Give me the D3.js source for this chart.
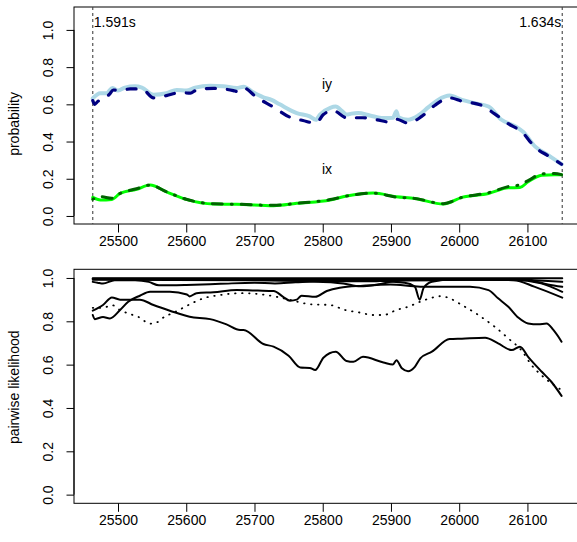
<!DOCTYPE html>
<html>
<head>
<meta charset="utf-8">
<script src="https://cdn.jsdelivr.net/npm/d3@7"></script>
<style>
  body { margin: 0; background: #fff; }
  svg { display: block; font-family: "Liberation Sans", Arial, sans-serif; }
</style>
</head>
<body>
<div id="viz"></div>
<script>
// frame window of the segment
const segStart = 25463
const segEnd = 26151
const segLabels = ['1.591s', '1.634s']
const xTicks = [25500, 25600, 25700, 25800, 25900, 26000, 26100]
const yTicks = [0, 0.2, 0.4, 0.6, 0.8, 1.0]

// top panel: phone probabilities
const iyFrames = [25463, 25474, 25483, 25492, 25500, 25510, 25525, 25535, 25552, 25571, 25586, 25600, 25613, 25635, 25654, 25674, 25684, 25698, 25713, 25725, 25737, 25762, 25781, 25790, 25796, 25811, 25819, 25828, 25835, 25842, 25852, 25869, 25889, 25903, 25908, 25911, 25925, 25940, 25955, 25969, 25986, 26004, 26023, 26043, 26062, 26084, 26094, 26111, 26131, 26150]
const iySmooth = [0.632, 0.66, 0.66, 0.688, 0.674, 0.69, 0.697, 0.69, 0.652, 0.66, 0.677, 0.674, 0.69, 0.70, 0.697, 0.688, 0.695, 0.665, 0.638, 0.624, 0.60, 0.553, 0.535, 0.517, 0.545, 0.581, 0.588, 0.565, 0.545, 0.55, 0.553, 0.54, 0.526, 0.528, 0.563, 0.53, 0.517, 0.54, 0.585, 0.624, 0.647, 0.624, 0.606, 0.588, 0.517, 0.478, 0.451, 0.374, 0.326, 0.278]
const iyRawFrames = [25463, 25466, 25469, 25488, 25493, 25503, 25518, 25535, 25552, 25571, 25591, 25606, 25615, 25640, 25669, 25676, 25684, 25703, 25728, 25752, 25771, 25790, 25801, 25815, 25835, 25859, 25879, 25899, 25908, 25925, 25945, 25964, 25986, 26004, 26033, 26052, 26072, 26092, 26111, 26131, 26150]
const iyRaw = [0.62, 0.60, 0.611, 0.656, 0.677, 0.674, 0.683, 0.683, 0.635, 0.647, 0.663, 0.66, 0.677, 0.686, 0.674, 0.668, 0.688, 0.638, 0.585, 0.531, 0.513, 0.499, 0.545, 0.567, 0.528, 0.528, 0.517, 0.504, 0.52, 0.499, 0.535, 0.594, 0.635, 0.617, 0.594, 0.549, 0.496, 0.451, 0.37, 0.322, 0.278]
const ixFrames = [25463, 25474, 25491, 25503, 25527, 25547, 25571, 25600, 25640, 25674, 25728, 25762, 25811, 25835, 25874, 25908, 25935, 25977, 26004, 26043, 26072, 26089, 26101, 26121, 26140, 26150]
const ixSmooth = [0.10, 0.086, 0.089, 0.121, 0.143, 0.166, 0.13, 0.089, 0.064, 0.063, 0.055, 0.068, 0.086, 0.107, 0.123, 0.103, 0.094, 0.064, 0.10, 0.121, 0.151, 0.153, 0.184, 0.219, 0.222, 0.222]
const ixRaw = [0.09, 0.104, 0.095, 0.121, 0.146, 0.166, 0.13, 0.09, 0.065, 0.063, 0.057, 0.068, 0.088, 0.107, 0.123, 0.101, 0.094, 0.066, 0.10, 0.125, 0.158, 0.168, 0.19, 0.226, 0.228, 0.222]

// bottom panel: pairwise likelihoods
const pairA = {frames: [25463, 25478, 25491, 25503, 25532, 25552, 25576, 25605, 25635, 25659, 25679, 25684, 25713, 25728, 25750, 25767, 25781, 25789, 25801, 25819, 25835, 25845, 25859, 25889, 25903, 25908, 25916, 25925, 25935, 25943, 25960, 25986, 26004, 26038, 26057, 26077, 26089, 26101, 26121, 26135, 26150],
  values: [0.849, 0.875, 0.91, 0.90, 0.90, 0.875, 0.849, 0.821, 0.81, 0.786, 0.76, 0.76, 0.695, 0.683, 0.641, 0.587, 0.585, 0.575, 0.632, 0.66, 0.617, 0.613, 0.636, 0.61, 0.601, 0.62, 0.583, 0.57, 0.59, 0.629, 0.66, 0.718, 0.72, 0.724, 0.698, 0.667, 0.683, 0.636, 0.567, 0.521, 0.456]}
const pairB = {frames: [25463, 25466, 25478, 25488, 25503, 25515, 25532, 25547, 25576, 25601, 25605, 25615, 25640, 25674, 25705, 25728, 25742, 25752, 25762, 25769, 25789, 25806, 25825, 25859, 25899, 25943, 26016, 26043, 26057, 26072, 26087, 26101, 26116, 26128, 26138, 26150],
  values: [0.829, 0.81, 0.82, 0.813, 0.852, 0.89, 0.918, 0.936, 0.936, 0.924, 0.915, 0.93, 0.934, 0.944, 0.942, 0.94, 0.913, 0.895, 0.90, 0.918, 0.913, 0.94, 0.955, 0.964, 0.97, 0.96, 0.96, 0.944, 0.906, 0.867, 0.816, 0.79, 0.786, 0.79, 0.76, 0.706]}
const pairDotted = {frames: [25463, 25478, 25491, 25503, 25518, 25530, 25547, 25557, 25566, 25586, 25605, 25625, 25649, 25684, 25713, 25737, 25757, 25781, 25811, 25833, 25855, 25874, 25889, 25908, 25925, 25945, 25974, 25986, 26004, 26028, 26052, 26072, 26092, 26106, 26121, 26135, 26150],
  values: [0.862, 0.862, 0.875, 0.852, 0.833, 0.82, 0.789, 0.795, 0.816, 0.847, 0.878, 0.906, 0.921, 0.93, 0.923, 0.91, 0.895, 0.879, 0.875, 0.852, 0.84, 0.829, 0.829, 0.852, 0.867, 0.893, 0.916, 0.906, 0.875, 0.829, 0.775, 0.721, 0.663, 0.598, 0.55, 0.514, 0.483]}
const pairC = {frames: [25463, 25470, 25478, 25495, 25525, 25545, 25560, 25600, 25650, 25700, 25730, 25760, 25800, 25870, 25910, 25960, 26000, 26080, 26110, 26151],
  values: [0.982, 0.978, 0.974, 0.99, 0.99, 0.982, 0.966, 0.968, 0.973, 0.978, 0.975, 0.98, 0.985, 0.985, 0.99, 0.99, 0.993, 0.99, 0.96, 0.909]}
const pairD = {frames: [25463, 25700, 25780, 25830, 25855, 25880, 25905, 25930, 26080, 26120, 26151],
  values: [0.992, 0.99, 0.985, 0.975, 0.962, 0.97, 0.985, 0.99, 0.992, 0.975, 0.936]}
const pairE = {frames: [25463, 25850, 25920, 25935, 25942, 25948, 25960, 25990, 26100, 26130, 26151],
  values: [0.995, 0.99, 0.978, 0.96, 0.90, 0.955, 0.983, 0.993, 0.99, 0.97, 0.959]}
const pairF = {frames: [25463, 25800, 26080, 26110, 26151],
  values: [0.996, 0.995, 0.995, 0.99, 0.982]}
const pairG = {frames: [25463, 25700, 25900, 26151],
  values: [0.999, 0.999, 0.999, 0.999]}

const width = 577
const height = 542

/**
 * Creates the svg element that holds both panels.
 *
 * @returns {*} The d3 Selection of the svg
 */
function generateSvg () {
    d3.select('#viz').select('svg').remove()
    return d3.select('#viz')
    .append('svg')
    .attr('width', width)
    .attr('height', height)
}

/**
 * Draws the frame, the axes and the y label of one panel.
 *
 * @param {*} svg The d3 Selection of the svg
 * @param {*} x The x scale
 * @param {*} y The y scale
 * @param {string} label The y axis title
 */
function drawPanelFrame (svg, x, y, label) {
    const [left, right] = x.range()
    const [bottom, top] = y.range()

    svg.append('rect')
    .attr('x', left)
    .attr('y', top)
    .attr('width', right - left)
    .attr('height', bottom - top)
    .attr('fill', 'none')
    .attr('stroke', 'black')
    .attr('stroke-width', 1)

    const xAxis = svg.append('g')
    .attr('class', 'x axis')
    .attr('transform', `translate(0, ${bottom})`)
    .call(d3.axisBottom(x).tickValues(xTicks).tickFormat(d3.format('d')).tickSize(8.5).tickPadding(13))
    xAxis.select('.domain').remove()
    xAxis.selectAll('.tick line').attr('stroke', 'black')
    xAxis.selectAll('.tick text')
    .attr('font-size', 14)
    .attr('fill', 'black')
    .attr('dy', null)

    const yAxis = svg.append('g')
    .attr('class', 'y axis')
    .attr('transform', `translate(${left}, 0)`)
    .call(d3.axisLeft(y).tickValues(yTicks).tickFormat(d3.format('.1f')).tickSize(7.5))
    yAxis.select('.domain')
    .attr('d', `M0,${y(0)}V${y(1)}`)
    .attr('stroke', 'black')
    yAxis.selectAll('.tick line').attr('stroke', 'black')
    yAxis.selectAll('.tick text')
    .attr('x', null)
    .attr('dy', null)
    .attr('font-size', 14)
    .attr('fill', 'black')
    .attr('text-anchor', 'middle')
    .attr('transform', 'translate(-21, 0) rotate(-90)')

    svg.append('text')
    .text(label)
    .attr('font-size', 14)
    .attr('text-anchor', 'middle')
    .attr('transform', `translate(19, ${(y(0) + y(1)) / 2 + 1}) rotate(-90)`)
}

/**
 * Draws one series as a path.
 *
 * @param {*} svg The d3 Selection of the svg
 * @param {number[]} frames The x values
 * @param {number[]} values The y values
 * @param {*} x The x scale
 * @param {*} y The y scale
 * @param {object} style The stroke settings
 */
function drawSeries (svg, frames, values, x, y, style) {
    const line = d3.line()
    .x(d => x(d[0]))
    .y(d => y(d[1]))
    .curve(d3.curveMonotoneX)

    svg.append('path')
    .datum(d3.zip(frames, values))
    .attr('d', line)
    .attr('fill', 'none')
    .attr('stroke', style.color)
    .attr('stroke-width', style.width)
    .attr('stroke-dasharray', style.dash || null)
    .attr('stroke-linecap', style.cap || 'round')
    .attr('stroke-linejoin', 'round')
}

const svg = generateSvg()

const x = d3.scaleLinear().domain([25435.5, 26178.5]).range([74, 581])
const yTop = d3.scaleLinear().domain([-0.0432, 1.1232]).range([224, 7])
const yBottom = d3.scaleLinear().domain([-0.04, 1.04]).range([503.3, 269.3])

// top panel
drawPanelFrame(svg, x, yTop, 'probability')

svg.selectAll('.seg-line')
  .data([segStart, segEnd])
  .enter()
  .append('line')
  .attr('class', 'seg-line')
  .attr('x1', d => x(d))
  .attr('x2', d => x(d))
  .attr('y1', yTop.range()[1])
  .attr('y2', yTop.range()[0])
  .attr('stroke', '#444')
  .attr('stroke-width', 1.1)
  .attr('stroke-dasharray', '3,3')

svg.append('text')
  .text(segLabels[0])
  .attr('x', x(segStart) + 1)
  .attr('y', 27)
  .attr('font-size', 14)
svg.append('text')
  .text(segLabels[1])
  .attr('x', x(segEnd) - 1)
  .attr('y', 27)
  .attr('font-size', 14)
  .attr('text-anchor', 'end')

drawSeries(svg, iyFrames, iySmooth, x, yTop, {color: '#add8e6', width: 4})
drawSeries(svg, iyRawFrames, iyRaw, x, yTop, {color: '#000080', width: 3.2, dash: '9,12'})
drawSeries(svg, ixFrames, ixSmooth, x, yTop, {color: '#00ff00', width: 3})
drawSeries(svg, ixFrames, ixRaw, x, yTop, {color: '#006400', width: 3, dash: '1,9,10,9'})

svg.append('text')
  .text('iy')
  .attr('x', 327)
  .attr('y', 89)
  .attr('font-size', 14)
  .attr('text-anchor', 'middle')
svg.append('text')
  .text('ix')
  .attr('x', 327)
  .attr('y', 174)
  .attr('font-size', 14)
  .attr('text-anchor', 'middle')

// bottom panel
drawPanelFrame(svg, x, yBottom, 'pairwise likelihood')

const solidPairs = [pairG, pairF, pairE, pairD, pairC, pairB, pairA]
solidPairs.forEach(p => drawSeries(svg, p.frames, p.values, x, yBottom, {color: 'black', width: 2}))
drawSeries(svg, pairDotted.frames, pairDotted.values, x, yBottom, {color: 'black', width: 1.8, dash: '0.5,6.5'})
</script>
</body>
</html>
